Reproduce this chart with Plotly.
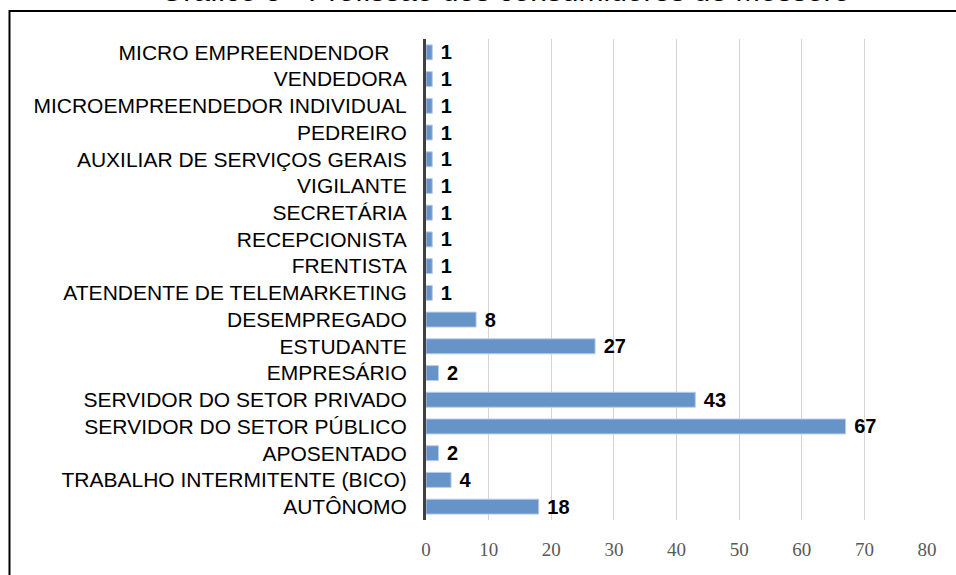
import plotly.graph_objects as go

categories = [
    "AUTÔNOMO",
    "TRABALHO INTERMITENTE (BICO)",
    "APOSENTADO",
    "SERVIDOR DO SETOR PÚBLICO",
    "SERVIDOR DO SETOR PRIVADO",
    "EMPRESÁRIO",
    "ESTUDANTE",
    "DESEMPREGADO",
    "ATENDENTE DE TELEMARKETING",
    "FRENTISTA",
    "RECEPCIONISTA",
    "SECRETÁRIA",
    "VIGILANTE",
    "AUXILIAR DE SERVIÇOS GERAIS",
    "PEDREIRO",
    "MICROEMPREENDEDOR INDIVIDUAL",
    "VENDEDORA",
    "MICRO EMPREENDENDOR   ",
]
values = [18, 4, 2, 67, 43, 2, 27, 8, 1, 1, 1, 1, 1, 1, 1, 1, 1, 1]
x_ticks = [0, 10, 20, 30, 40, 50, 60, 70, 80]
title = "Gráfico 5 - Profissão dos consumidores de Mossoró"

W, H = 956, 575
L, R, T, B = 426, 956 - 927, 39, 575 - 520
pw, ph = W - L - R, H - T - B

def px(sx):
    return (sx - L) / pw

def py(sy):
    return (H - B - sy) / ph

fig = go.Figure(
    go.Bar(
        y=categories,
        x=values,
        orientation="h",
        marker=dict(color="#6794C8", line=dict(color="#B9CDE8", width=1)),
        text=[str(v) for v in values],
        texttemplate=" %{text}",
        textposition="outside",
        constraintext="none",
        textfont=dict(family="Liberation Sans, Arial", size=20, color="black", weight="bold"),
        cliponaxis=False,
    )
)

fig.update_layout(
    width=W,
    height=H,
    margin=dict(l=L, r=R, t=T, b=B),
    paper_bgcolor="white",
    plot_bgcolor="white",
    bargap=0.44,
    showlegend=False,
    xaxis=dict(
        range=[0, 80],
        tickvals=x_ticks,
        showgrid=True,
        gridcolor="#D4D4D4",
        gridwidth=1,
        zeroline=False,
        showline=False,
        tickfont=dict(family="Liberation Serif, DejaVu Serif, serif", size=19, color="#595959"),
        ticks="",
        ticklabelstandoff=16,
    ),
    yaxis=dict(
        categoryorder="array",
        categoryarray=categories,
        showline=True,
        linecolor="#404040",
        linewidth=3,
        showgrid=False,
        ticks="",
        ticklabelstandoff=12,
        tickfont=dict(family="Liberation Sans, Arial", size=21, color="black"),
    ),
    font=dict(family="Liberation Sans, Arial"),
)

fig.add_shape(
    type="rect",
    xref="paper", yref="paper",
    x0=px(9.5), x1=px(980), y0=py(600), y1=py(11),
    line=dict(color="black", width=2),
    fillcolor="rgba(0,0,0,0)",
    layer="below",
)

fig.add_annotation(
    text=title,
    xref="paper", yref="paper",
    x=px(505), y=py(9),
    xanchor="center", yanchor="bottom",
    showarrow=False,
    font=dict(family="Liberation Sans, Arial", size=30, color="black"),
)

fig.write_html(
    "out.html",
    config={"displayModeBar": False},
    post_script="document.body.style.margin='0';",
)
